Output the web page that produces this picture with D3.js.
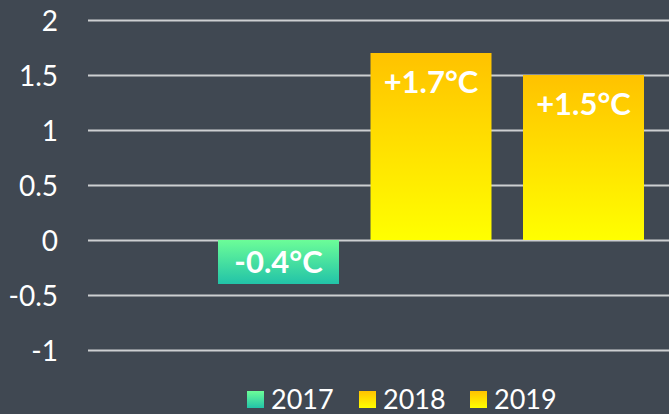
<!DOCTYPE html>
<html>
<head>
<meta charset="utf-8">
<script src="https://cdn.jsdelivr.net/npm/d3@7"></script>
<style>
  html, body { margin: 0; padding: 0; background: #404852; }
  svg { display: block; }
</style>
</head>
<body>
<svg id="chart" width="669" height="414"></svg>
<script>
const years = ["2017", "2018", "2019"];
const values = [-0.4, 1.7, 1.5];
const labels = ["-0.4°C", "+1.7°C", "+1.5°C"];
const yTicks = [-1, -0.5, 0, 0.5, 1, 1.5, 2];
const yTickLabels = ["-1", "-0.5", "0", "0.5", "1", "1.5", "2"];

const W = 669, H = 414;
const svg = d3.select("#chart");
svg.append("rect").attr("width", W).attr("height", H).attr("fill", "#404852");

const defs = svg.append("defs");
const gradGreen = defs.append("linearGradient").attr("id", "gGreen")
  .attr("x1", 0).attr("y1", 0).attr("x2", 0).attr("y2", 1);
gradGreen.append("stop").attr("offset", "0%").attr("stop-color", "#6cfd98");
gradGreen.append("stop").attr("offset", "100%").attr("stop-color", "#22c3a8");
const gradYellow = defs.append("linearGradient").attr("id", "gYellow")
  .attr("x1", 0).attr("y1", 0).attr("x2", 0).attr("y2", 1);
gradYellow.append("stop").attr("offset", "0%").attr("stop-color", "#ffc200");
gradYellow.append("stop").attr("offset", "100%").attr("stop-color", "#ffff00");
const fills = ["url(#gGreen)", "url(#gYellow)", "url(#gYellow)"];

const y = d3.scaleLinear().domain([-1, 2]).range([350, 20]);
const x = d3.scaleBand().domain(years).range([202.25, 659.75])
  .paddingInner(0.2066).paddingOuter(0.1033);

const font = "Lato, 'Open Sans', sans-serif";

// grid lines
const yAxis = d3.axisLeft(y).tickValues(yTicks)
  .tickSize(-(W - 88)).tickPadding(30)
  .tickFormat((d, i) => yTickLabels[i]);
const gAxis = svg.append("g").attr("transform", "translate(88,0)").call(yAxis);
gAxis.select(".domain").remove();
gAxis.selectAll(".tick line").attr("stroke", "#cdcfd1").attr("stroke-width", 2);
gAxis.selectAll(".tick text")
  .attr("fill", "#ffffff").attr("font-family", font).attr("font-size", 28)
  .attr("dy", "0.36em");

// bars
const data = years.map((yr, i) => ({ yr, v: values[i], label: labels[i], fill: fills[i] }));
svg.selectAll("rect.bar").data(data).join("rect")
  .attr("class", "bar")
  .attr("x", d => x(d.yr))
  .attr("width", x.bandwidth())
  .attr("y", d => y(Math.max(0, d.v)))
  .attr("height", d => Math.abs(y(d.v) - y(0)))
  .attr("fill", d => d.fill);

// bar labels
svg.selectAll("text.lbl").data(data).join("text")
  .attr("class", "lbl")
  .attr("x", d => x(d.yr) + x.bandwidth() / 2)
  .attr("y", d => d.v >= 0 ? y(d.v) + 40 : y(d.v) - 11)
  .attr("text-anchor", "middle")
  .attr("fill", "#ffffff")
  .attr("font-family", font).attr("font-weight", "bold").attr("font-size", 31)
  .text(d => d.label);

// legend
const legendX = [247, 359, 470];
const lg = svg.append("g");
data.forEach((d, i) => {
  lg.append("rect").attr("x", legendX[i]).attr("y", 391).attr("width", 17).attr("height", 17)
    .attr("fill", d.fill);
  lg.append("text").attr("x", legendX[i] + 24).attr("y", 409)
    .attr("fill", "#ffffff").attr("font-family", font).attr("font-size", 27)
    .text(d.yr);
});
</script>
</body>
</html>
